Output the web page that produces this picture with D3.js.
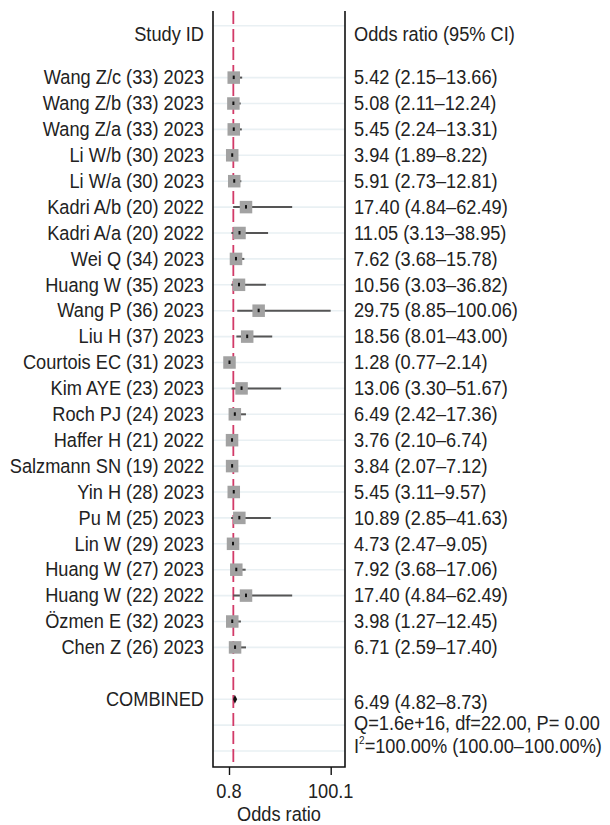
<!DOCTYPE html>
<html><head><meta charset="utf-8">
<script src="https://cdn.jsdelivr.net/npm/d3@7"></script>
<style>
html,body{margin:0;padding:0;background:#fff;}
svg text{font-family:"Liberation Sans",Arial,Helvetica,sans-serif;fill:#222;}
</style></head>
<body>
<script>
const studies = ["Wang Z/c (33) 2023","Wang Z/b (33) 2023","Wang Z/a (33) 2023","Li W/b (30) 2023","Li W/a (30) 2023","Kadri A/b (20) 2022","Kadri A/a (20) 2022","Wei Q (34) 2023","Huang W (35) 2023","Wang P (36) 2023","Liu H (37) 2023","Courtois EC (31) 2023","Kim AYE (23) 2023","Roch PJ (24) 2023","Haffer H (21) 2022","Salzmann SN (19) 2022","Yin H (28) 2023","Pu M (25) 2023","Lin W (29) 2023","Huang W (27) 2023","Huang W (22) 2022","Özmen E (32) 2023","Chen Z (26) 2023"];
const oddsRatio = [5.42,5.08,5.45,3.94,5.91,17.40,11.05,7.62,10.56,29.75,18.56,1.28,13.06,6.49,3.76,3.84,5.45,10.89,4.73,7.92,17.40,3.98,6.71];
const ciLow = [2.15,2.11,2.24,1.89,2.73,4.84,3.13,3.68,3.03,8.85,8.01,0.77,3.30,2.42,2.10,2.07,3.11,2.85,2.47,3.68,4.84,1.27,2.59];
const ciHigh = [13.66,12.24,13.31,8.22,12.81,62.49,38.95,15.78,36.82,100.06,43.00,2.14,51.67,17.36,6.74,7.12,9.57,41.63,9.05,17.06,62.49,12.45,17.40];
const combined = {label:"COMBINED", or:6.49, lo:4.82, hi:8.73};
const heterogeneity = "Q=1.6e+16, df=22.00, P= 0.00";
const i2Text = ["=100.00% (100.00\u2013100.00%)"];
const xTicks = [0.8, 100.1];
const headers = ["Study ID","Odds ratio (95% CI)"];
const xTitle = "Odds ratio";

const W=610,H=825;
const svg=d3.select("body").append("svg").attr("width",W).attr("height",H);
const fs=18.2, sy=1.08;
const plotL=213, plotR=345, plotTop=11, plotBot=767;
const x=d3.scaleLinear().domain([0.8,100.1]).range([229,330.7]);
const y=d3.scaleLinear().domain([0,1]).range([77.6,103.5]);
const fmt=v=>v.toFixed(2);
const ciText=(o,l,h)=>`${fmt(o)} (${fmt(l)}\u2013${fmt(h)})`;

function label(px,py,str,anchor){
  return svg.append("text")
    .attr("transform",`translate(${px},${py}) scale(1,${sy})`)
    .attr("text-anchor",anchor||"start").attr("dominant-baseline","central")
    .attr("font-size",fs).text(str);
}

// grid lines
const gridRows=[-2, ...d3.range(studies.length), 24, 25, 26];
svg.append("g").selectAll("line").data(gridRows).join("line")
  .attr("x1",plotL).attr("x2",plotR).attr("y1",d=>y(d)).attr("y2",d=>y(d))
  .attr("stroke","#e9f0f3").attr("stroke-width",1.6);

// reference line (dashed)
svg.append("line").attr("x1",x(combined.or)-1.5).attr("x2",x(combined.or)-1.5)
  .attr("y1",plotTop).attr("y2",plotBot)
  .attr("stroke","#d23a68").attr("stroke-width",1.8).attr("stroke-dasharray","13,5");

// CI lines + boxes
const g=svg.append("g");
studies.forEach((s,i)=>{
  const yy=y(i);
  g.append("line").attr("x1",x(Math.max(ciLow[i],0.8))).attr("x2",x(ciHigh[i]))
   .attr("y1",yy).attr("y2",yy).attr("stroke","#555").attr("stroke-width",2);
  const bs=12.5;
  g.append("rect").attr("x",x(oddsRatio[i])-bs/2).attr("y",yy-bs/2).attr("width",bs).attr("height",bs)
   .attr("fill","#a2a2a2");
  g.append("rect").attr("x",x(oddsRatio[i])-1).attr("y",yy-2).attr("width",2).attr("height",3.5).attr("fill","#111");
});

// combined diamond
const cy=y(24);
svg.append("path").attr("d",`M${x(combined.lo)},${cy}L${x(combined.or)},${cy-4.5}L${x(combined.hi)},${cy}L${x(combined.or)},${cy+4.5}Z`)
  .attr("fill","#111");

// frame
svg.append("path").attr("d",`M${plotL},${plotTop}V${plotBot}H${plotR}V${plotTop}`)
  .attr("fill","none").attr("stroke","#111").attr("stroke-width",1.6);

// axis
const ax=svg.append("g").attr("transform",`translate(0,${plotBot})`)
  .call(d3.axisBottom(x).tickValues(xTicks).tickFormat(d=>String(d)).tickSize(8).tickPadding(5));
ax.select(".domain").remove();
ax.selectAll(".tick line").attr("stroke","#111").attr("stroke-width",1.4);
ax.selectAll(".tick text").remove();
xTicks.forEach(v=>label(x(v),791.5,String(v),"middle"));
svg.append("text").attr("transform",`translate(${(plotL+plotR)/2},821) scale(1,${sy})`)
  .attr("text-anchor","middle").attr("font-size",fs).text(xTitle);

// headers
label(204,34,headers[0],"end");
label(354,34,headers[1]);

// study labels and estimates
studies.forEach((s,i)=>{
  label(204,y(i),s,"end");
  label(354,y(i),ciText(oddsRatio[i],ciLow[i],ciHigh[i]));
});

// combined
label(204,cy,combined.label,"end");
label(354,cy+3,ciText(combined.or,combined.lo,combined.hi));
label(354,cy+24.5,heterogeneity);
const t=label(354,cy+47,"");
t.append("tspan").text("I");
t.append("tspan").attr("font-size",fs*0.55).attr("dy",-5.5).text("2");
t.append("tspan").attr("dy",5.5).text(i2Text[0]);
</script>
</body></html>
